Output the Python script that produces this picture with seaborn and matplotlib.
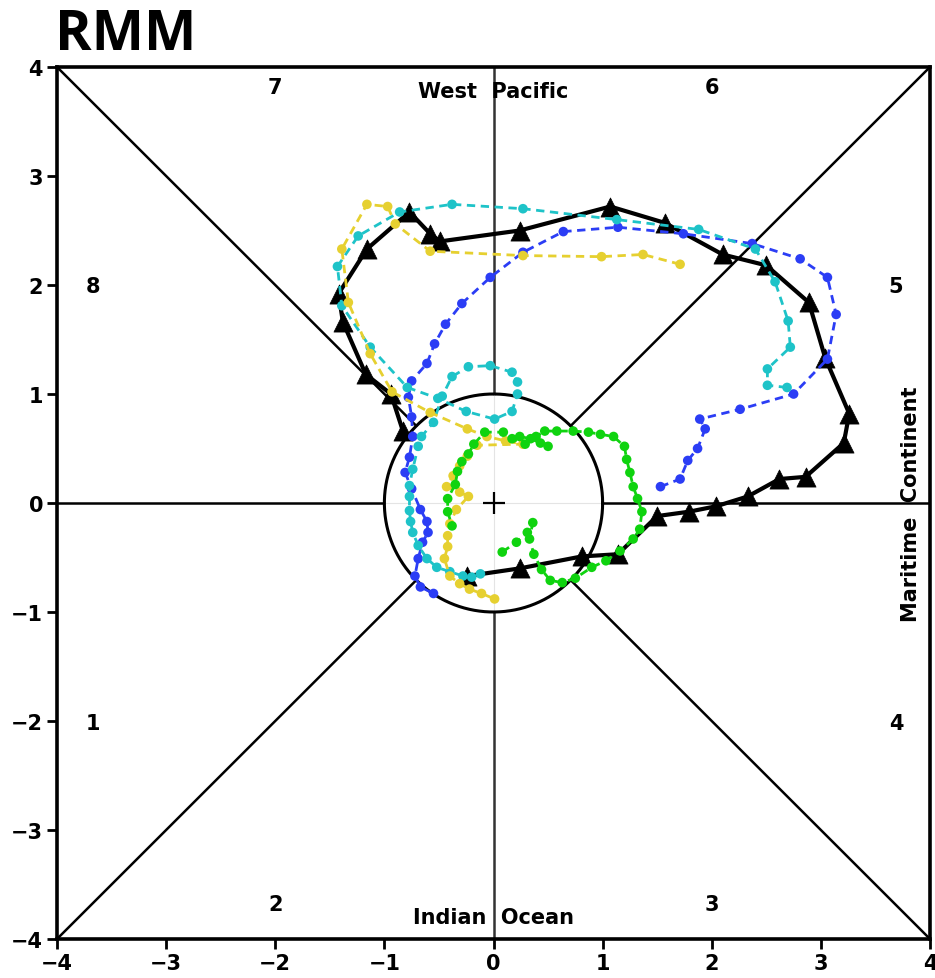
import numpy as np
import pandas as pd
import matplotlib
matplotlib.use("Agg")
import matplotlib.pyplot as plt
import seaborn as sns

# RMM1 / RMM2 trajectories
black_rmm1 = [-0.24, 0.24, 0.81, 1.14, 1.50, 1.79, 2.04, 2.33, 2.62, 2.86, 3.21, 3.26,
              3.04, 2.89, 2.50, 2.10, 1.57, 1.07, 0.24, -0.49, -0.58, -0.77, -1.16,
              -1.42, -1.38, -1.17, -0.94, -0.83]
black_rmm2 = [-0.67, -0.60, -0.49, -0.47, -0.12, -0.08, -0.03, 0.06, 0.22, 0.24, 0.55, 0.82,
              1.33, 1.84, 2.18, 2.28, 2.57, 2.72, 2.50, 2.40, 2.47, 2.67, 2.33,
              1.92, 1.66, 1.18, 1.00, 0.66]

blue_rmm1 = [1.53, 1.71, 1.78, 1.87, 1.94, 1.89, 2.26, 2.75, 3.06, 3.14, 3.06, 2.81,
             2.37, 1.74, 1.14, 0.64, 0.27, -0.03, -0.29, -0.44, -0.54, -0.61, -0.75,
             -0.78, -0.75, -0.74, -0.77, -0.81, -0.75, -0.67, -0.61, -0.60, -0.65,
             -0.69, -0.72, -0.67, -0.55]
blue_rmm2 = [0.15, 0.22, 0.39, 0.50, 0.68, 0.77, 0.86, 1.00, 1.32, 1.73, 2.07, 2.24,
             2.38, 2.47, 2.53, 2.49, 2.30, 2.07, 1.83, 1.64, 1.46, 1.28, 1.12,
             0.97, 0.79, 0.61, 0.42, 0.28, 0.13, -0.06, -0.17, -0.27, -0.36,
             -0.51, -0.67, -0.77, -0.83]

cyan_rmm1 = [2.69, 2.51, 2.51, 2.72, 2.70, 2.58, 2.40, 1.88, 1.13, 0.27, -0.38, -0.86,
             -1.24, -1.43, -1.39, -1.13, -0.79, -0.51, -0.25, 0.01, 0.17, 0.22, 0.22,
             0.17, -0.03, -0.23, -0.38, -0.47, -0.55, -0.66, -0.69, -0.74, -0.77,
             -0.77, -0.77, -0.76, -0.74, -0.69, -0.61, -0.52, -0.40, -0.28, -0.20, -0.12]
cyan_rmm2 = [1.06, 1.08, 1.23, 1.43, 1.67, 2.03, 2.33, 2.51, 2.60, 2.70, 2.74, 2.67,
             2.45, 2.17, 1.81, 1.43, 1.06, 0.96, 0.84, 0.77, 0.84, 1.00, 1.11,
             1.20, 1.26, 1.25, 1.16, 0.98, 0.74, 0.61, 0.52, 0.31, 0.16,
             0.06, -0.07, -0.17, -0.27, -0.39, -0.51, -0.59, -0.63, -0.67, -0.68, -0.65]

yellow_rmm1 = [1.71, 1.37, 0.99, 0.27, -0.58, -0.90, -0.97, -1.16, -1.39, -1.33, -1.13,
               -0.93, -0.58, -0.24, -0.06, 0.11, 0.27, -0.15, -0.24, -0.31, -0.37,
               -0.43, -0.31, -0.23, -0.34, -0.40, -0.42, -0.42, -0.45, -0.40, -0.31,
               -0.22, -0.11, 0.01]
yellow_rmm2 = [2.19, 2.28, 2.26, 2.27, 2.31, 2.56, 2.72, 2.74, 2.33, 1.84, 1.37,
               1.02, 0.83, 0.68, 0.61, 0.57, 0.54, 0.53, 0.43, 0.34, 0.25,
               0.15, 0.10, 0.06, -0.06, -0.19, -0.30, -0.40, -0.51, -0.67, -0.74,
               -0.79, -0.83, -0.88]

green_rmm1 = [0.08, 0.21, 0.31, 0.36, 0.33, 0.37, 0.44, 0.52, 0.63, 0.75, 0.90, 1.03,
              1.16, 1.28, 1.34, 1.36, 1.32, 1.28, 1.25, 1.22, 1.20, 1.10, 0.98, 0.87,
              0.73, 0.58, 0.47, 0.39, 0.50, 0.43, 0.34, 0.24, 0.29, 0.17, 0.09, -0.08,
              -0.18, -0.23, -0.29, -0.33, -0.35, -0.42, -0.42, -0.38]
green_rmm2 = [-0.45, -0.36, -0.27, -0.18, -0.33, -0.47, -0.61, -0.71, -0.73, -0.69, -0.59, -0.53,
              -0.44, -0.33, -0.24, -0.08, 0.04, 0.15, 0.28, 0.40, 0.52, 0.61, 0.63, 0.65,
              0.66, 0.66, 0.66, 0.61, 0.52, 0.55, 0.59, 0.61, 0.54, 0.59, 0.65, 0.65,
              0.54, 0.45, 0.38, 0.29, 0.17, 0.04, -0.08, -0.21]

phase_numbers = ["1", "2", "3", "4", "5", "6", "7", "8"]
phase_label_x = [-3.67, -2.0, 2.0, 3.69, 3.69, 2.0, -2.0, -3.67]
phase_label_y = [-2.02, -3.68, -3.68, -2.02, 1.99, 3.82, 3.82, 1.99]
ticks = [-4, -3, -2, -1, 0, 1, 2, 3, 4]

sns.set_theme(style="white")
plt.rcParams['font.family'] = ['DejaVu Sans']
plt.rcParams['axes.unicode_minus'] = True
plt.rcParams['text.color'] = 'black'

W, H = 935, 979
fig = plt.figure(figsize=(W / 100, H / 100), dpi=100)
ax = fig.add_axes([57 / W, 1 - 940 / H, 873 / W, 872 / H])
ax.set_xlim(-4, 4)
ax.set_ylim(-4, 4)

# phase-space frame: diagonals, axes outside the unit circle, unit circle
r = 1 / np.sqrt(2)
frame_kw = dict(color="black", lw=1.8, zorder=1)
for sx in (-1, 1):
    for sy in (-1, 1):
        ax.plot([4 * sx, r * sx], [4 * sy, r * sy], **frame_kw)
ax.plot([-4, -1], [0, 0], **frame_kw)
ax.plot([1, 4], [0, 0], **frame_kw)
ax.plot([0, 0], [-4, -1], color="#333333", lw=1.8, zorder=1)
ax.plot([0, 0], [1, 4], color="#333333", lw=1.8, zorder=1)
ax.plot([-1, 1], [0, 0], color="#e4e4e4", lw=0.8, zorder=1)
ax.plot([0, 0], [-1, 1], color="#e4e4e4", lw=0.8, zorder=1)
theta = np.linspace(0, 2 * np.pi, 400)
ax.plot(np.cos(theta), np.sin(theta), color="black", lw=2.2, zorder=1)
ax.plot([0], [0], marker="+", ms=16, mew=1.6, color="black", zorder=1)

# observed RMM (black, triangles)
df_black = pd.DataFrame({"RMM1": black_rmm1, "RMM2": black_rmm2})
sns.lineplot(data=df_black, x="RMM1", y="RMM2", sort=False, estimator=None,
             color="black", lw=3, ax=ax, zorder=3)
sns.scatterplot(data=df_black, x="RMM1", y="RMM2", marker="^", s=190,
                color="black", edgecolor="black", linewidth=0.5, ax=ax, zorder=4)

series = [
    (blue_rmm1, blue_rmm2, "#2b3df5"),
    (cyan_rmm1, cyan_rmm2, "#1ec3c8"),
    (yellow_rmm1, yellow_rmm2, "#e6d030"),
    (green_rmm1, green_rmm2, "#0fd30f"),
]
z = 5
for xs, ys, col in series:
    df = pd.DataFrame({"RMM1": xs, "RMM2": ys})
    sns.lineplot(data=df, x="RMM1", y="RMM2", sort=False, estimator=None,
                 color=col, lw=2, linestyle=(0, (3, 2)), ax=ax, zorder=z)
    sns.scatterplot(data=df, x="RMM1", y="RMM2", s=48, color=col,
                    edgecolor="none", ax=ax, zorder=z + 1)
    z += 2

# phase numbers and region names
txt_kw = dict(fontsize=15, fontweight="bold", ha="center", va="center", color="black")
for lab, px, py in zip(phase_numbers, phase_label_x, phase_label_y):
    ax.text(px, py, lab, **txt_kw)
ax.text(0, 3.78, "West  Pacific", **txt_kw)
ax.text(0, -3.80, "Indian  Ocean", **txt_kw)
ax.text(3.83, 0.0, "Maritime  Continent", rotation=90, **txt_kw)

ax.set_xticks(ticks)
ax.set_yticks(ticks)
ax.set_xlabel("")
ax.set_ylabel("")
ax.tick_params(direction="out", length=7, width=2, labelsize=15, pad=3,
               bottom=True, left=True, colors="black")
for lbl in ax.get_xticklabels() + ax.get_yticklabels():
    lbl.set_fontweight("bold")
for sp in ax.spines.values():
    sp.set_color("black")
    sp.set_linewidth(2.6)

fig.text(55 / W, 1 - 50 / H, "RMM", fontsize=40, fontweight="bold", color="black",
         family=["Open Sans", "DejaVu Sans"], ha="left", va="baseline")

fig.savefig("out.png", dpi=100)
